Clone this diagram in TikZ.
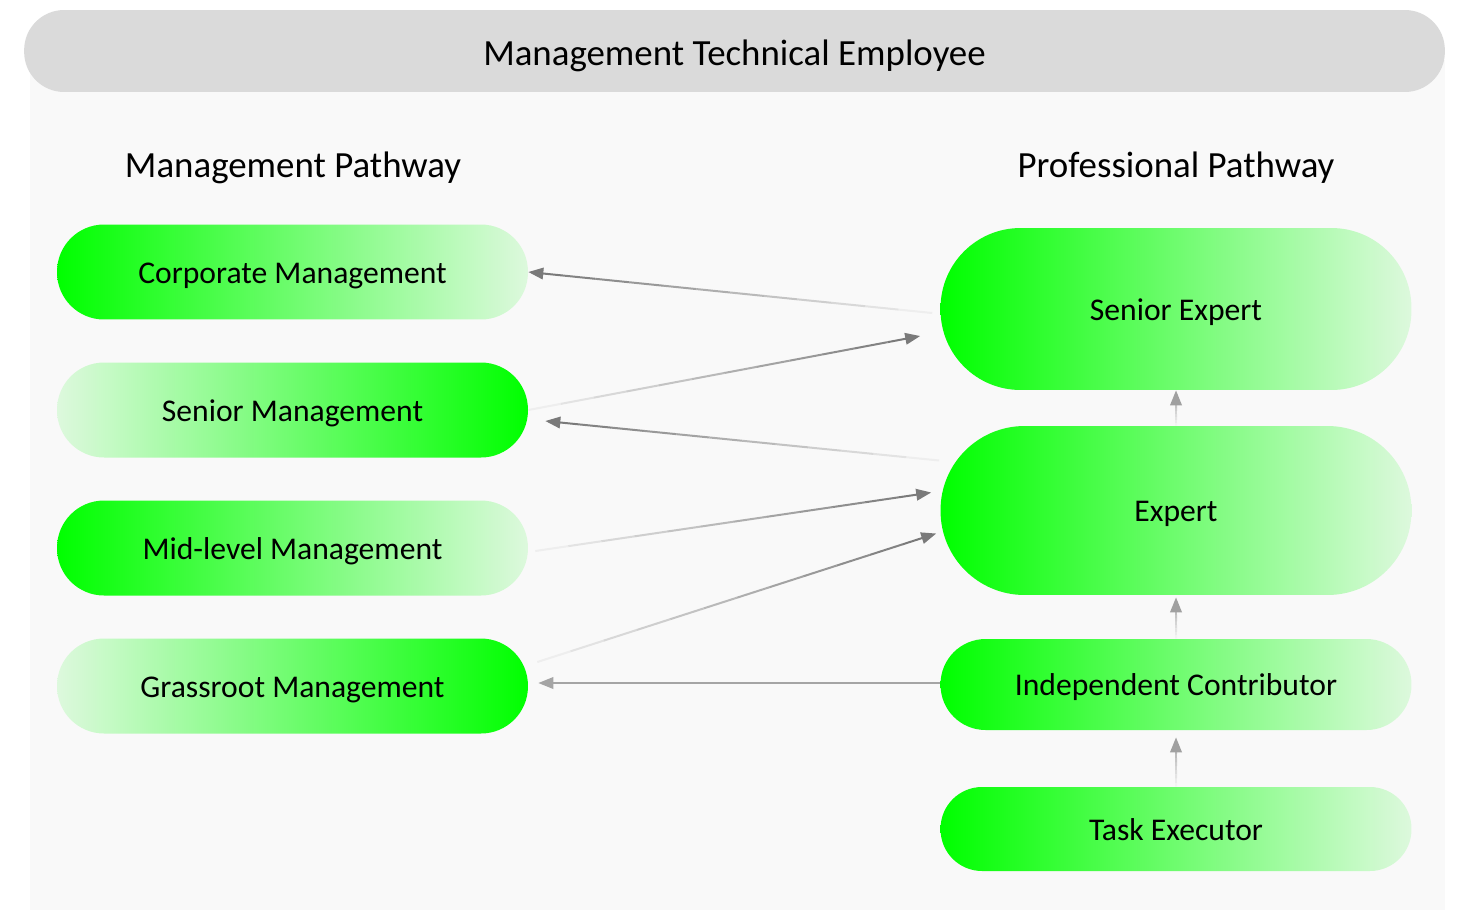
\documentclass[tikz,border=0pt]{standalone}
\usepackage{fontspec}
\setmainfont{Carlito}
\usepackage{tikz}
\usetikzlibrary{arrows.meta, calc}
\definecolor{PanelGray}{HTML}{F9F9F9}
\definecolor{HeaderGray}{HTML}{DADADA}
\definecolor{PathGreen}{HTML}{00FF00}
\definecolor{PaleGreen}{HTML}{DDF9DD}
\definecolor{LinkGray}{HTML}{7A7A7A}
\definecolor{StepGray}{HTML}{A0A0A0}
\tikzset{
  % Box styles
  headerbar/.style={rectangle, rounded corners=0.8cm, fill=HeaderGray, minimum width=28.42cm, minimum height=1.64cm, text height=17pt, text depth=0pt, font=\fontsize{21}{25}\selectfont},
  pathbox/.style={rectangle, minimum width=9.42cm, inner sep=0pt, align=center, text height=12.8pt, text depth=0pt, font=\fontsize{18}{22}\selectfont},
  titletext/.style={text height=14.5pt, text depth=0pt, font=\fontsize{21}{25}\selectfont},
  % Arrow styles
  linkline/.style={line width=0.04cm},
  linktip/.style={-{Triangle[length=0.3cm, width=0.23cm]}, line width=0.04cm}
}
% fading connector: light at the tail, dark at the tip
\newcommand{\fadelink}[3][LinkGray]{%
  \foreach \k in {1,...,11}{%
    \pgfmathsetmacro{\mixval}{int(5+8*\k)}%
    \draw[linkline, draw=#1!\mixval] ($(#2)!{(\k-1)/12}!(#3)$) -- ($(#2)!{\k/12}!(#3)$);
  }%
  \draw[linktip, draw=#1, fill=#1] ($(#2)!{11/12}!(#3)$) -- (#3);
}

\begin{document}
\begin{tikzpicture}[x=0.02cm, y=-0.02cm]
  \useasboundingbox (0,0) rectangle (1459,910);

  % Panel and header
  \fill[PanelGray] (30,60) rectangle (1445,910);
  \node[headerbar] (head) at (734.5,51) {Management Technical Employee};

  % Column titles
  \node[titletext] (mtitle) at (293,165) {Management Pathway};
  \node[titletext] (ptitle) at (1176,165) {Professional Pathway};

  % Management pathway
  \foreach \name/\ypos/\lc/\rc/\label in {corp/272/PathGreen/PaleGreen/Corporate Management, smgmt/410/PaleGreen/PathGreen/Senior Management, mid/548/PathGreen/PaleGreen/Mid-level Management, grass/686/PaleGreen/PathGreen/Grassroot Management} {
    \node[pathbox, minimum height=1.9cm, rounded corners=0.94cm, left color=\lc, right color=\rc] (\name) at (292.5,\ypos) {\label};
  }

  % Professional pathway
  \foreach \name/\ypos/\boxh/\cornr/\label in {se/309/3.24cm/1.6cm/Senior Expert, ex/510.5/3.38cm/1.68cm/Expert, ic/684.5/1.82cm/0.9cm/Independent Contributor, te/829/1.68cm/0.83cm/Task Executor} {
    \node[pathbox, minimum height=\boxh, rounded corners=\cornr, left color=PathGreen, right color=PaleGreen] (\name) at (1176,\ypos) {\label};
  }

  % Connector ends
  \coordinate (seOut) at ($(se.west)+(-8,4)$);
  \coordinate (seIn) at ($(se.west)+(-20,27)$);
  \coordinate (exOut) at ($(ex.west)+(-1,-50)$);
  \coordinate (smgmtIn) at ($(smgmt.east)+(17,11)$);
  \coordinate (midOut) at ($(mid.east)+(7,3)$);
  \coordinate (exInA) at ($(ex.west)+(-9,-18)$);
  \coordinate (grassOut) at ($(grass.east)+(9,-24)$);
  \coordinate (exInB) at ($(ex.west)+(-4,23)$);
  \coordinate (grassIn) at ($(grass.east)+(10,-3)$);
  \coordinate (icOut) at ($(ic.west)+(0,-1.5)$);
  \coordinate (exBase) at ($(ex.south)+(0,2)$);
  \coordinate (icBase) at ($(ic.south)+(0,7)$);

  % Cross links
  \fadelink{seOut}{corp.east}
  \fadelink{smgmt.east}{seIn}
  \fadelink{exOut}{smgmtIn}
  \fadelink{midOut}{exInA}
  \fadelink{grassOut}{exInB}
  \draw[linktip, draw=StepGray!95, fill=StepGray] (icOut) -- (grassIn);

  % Promotion steps
  \fadelink[StepGray]{ex.north}{se.south}
  \fadelink[StepGray]{ic.north}{exBase}
  \fadelink[StepGray]{te.north}{icBase}
\end{tikzpicture}
\end{document}
